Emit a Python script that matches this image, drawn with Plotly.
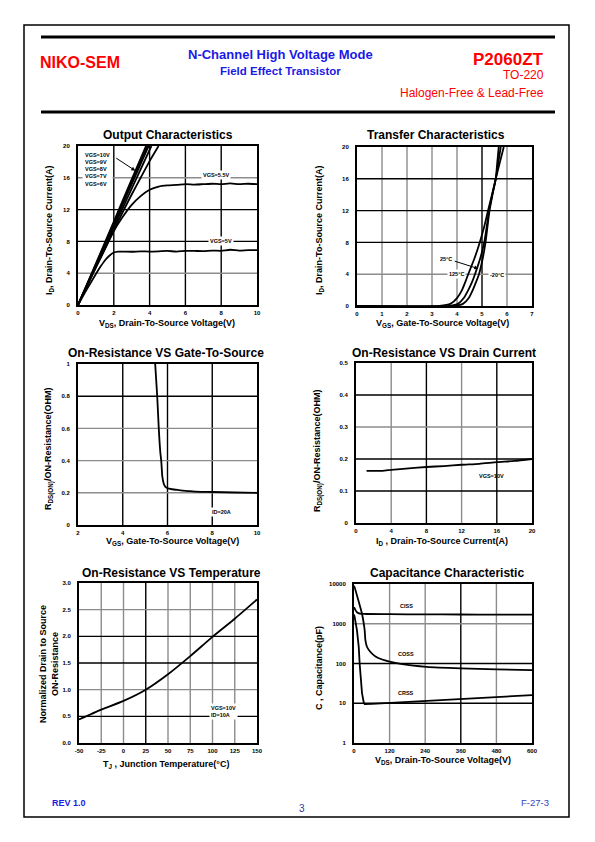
import math
import plotly.graph_objects as go

W, H = 595, 842
FONT = "Liberation Sans, Arial, sans-serif"
RED = "#ff0000"
BLUE = "#1a1ae6"
GRAY = "#8c8c8c"
BLACK = "#000000"

# ---------------- data ----------------
# Output characteristics (VDS in V, ID in A)
oc_vds_10 = [0, 1, 2, 3, 3.8]
oc_id_10 = [0, 5.2, 10.5, 15.8, 20]
oc_vds_9 = [0, 1, 2, 3, 3.88]
oc_id_9 = [0, 5.1, 10.3, 15.5, 20]
oc_vds_8 = [0, 1, 2, 3, 3.95]
oc_id_8 = [0, 5.0, 10.1, 15.2, 20]
oc_vds_7 = [0, 1, 2, 3, 4.1]
oc_id_7 = [0, 4.85, 9.75, 14.65, 20]
oc_vds_6 = [0, 0.5, 1, 1.5, 2, 2.5, 3, 3.5, 4, 4.5]
oc_id_6 = [0, 2.4, 4.8, 7.1, 9.4, 11.7, 13.9, 16.0, 18.1, 20.0]
oc_vds_55 = [0, 0.5, 1, 1.5, 2, 2.5, 3, 3.5, 4, 4.5, 5, 5.5, 6, 6.5, 7, 7.5, 8, 8.5, 9, 9.5, 10]
oc_id_55 = [0, 2.4, 4.7, 7.0, 9.3, 11.1, 12.6, 13.7, 14.5, 14.9, 15.05, 15.1, 15.2, 15.15,
            15.2, 15.25, 15.2, 15.3, 15.2, 15.25, 15.2]
oc_vds_5 = [0, 0.5, 1, 1.25, 1.5, 1.75, 2, 2.25, 2.5, 3, 3.5, 4, 4.5, 5, 5.5, 6, 6.5, 7,
            7.5, 8, 8.5, 9, 9.5, 10]
oc_id_5 = [0, 2.0, 3.9, 4.8, 5.6, 6.2, 6.6, 6.72, 6.72, 6.7, 6.75, 6.72, 6.75, 6.8, 6.72,
           6.8, 6.8, 6.78, 6.85, 6.82, 6.95, 6.85, 6.9, 6.9]

# Transfer characteristics (VGS in V, ID in A)
tc_id = [0, 0.02, 0.3, 1.0, 2.0, 3.0, 4, 6, 8, 10, 12, 14, 16, 18, 20]
tc_vgs_125 = [0, 3.3, 3.75, 4.0, 4.2, 4.33, 4.45, 4.7, 4.91, 5.09, 5.24, 5.4, 5.55, 5.71, 5.87]
tc_vgs_25 = [0, 3.7, 4.05, 4.27, 4.45, 4.6, 4.72, 4.93, 5.09, 5.19, 5.28, 5.41, 5.55, 5.65, 5.75]
tc_vgs_m20 = [0, 3.9, 4.25, 4.47, 4.63, 4.76, 4.88, 5.03, 5.14, 5.22, 5.30, 5.42, 5.55, 5.61, 5.67]

# On-resistance vs gate-to-source voltage (ID = 20 A)
rg_vgs = [5.45, 5.54, 5.61, 5.68, 5.72, 5.77, 5.83, 5.9, 6.0, 6.2, 6.5, 7, 7.5, 8, 9, 10]
rg_r = [1.0, 0.8, 0.6, 0.45, 0.4, 0.3, 0.258, 0.238, 0.228, 0.222, 0.217, 0.21, 0.206,
        0.205, 0.202, 0.2]

# On-resistance vs drain current (VGS = 10 V)
rd_id = [1.2, 2, 3, 4, 6, 8, 10, 12, 14, 16, 18, 20]
rd_r = [0.163, 0.163, 0.163, 0.166, 0.171, 0.175, 0.178, 0.182, 0.185, 0.19, 0.194, 0.2]

# On-resistance vs temperature (normalized)
rt_t = [-50, -25, 0, 25, 50, 75, 100, 125, 150]
rt_r = [0.44, 0.625, 0.79, 1.0, 1.29, 1.63, 1.99, 2.33, 2.69]

# Capacitance (pF) vs VDS
cp_vds_ciss = [0, 5, 10, 20, 40, 120, 240, 360, 480, 600]
cp_ciss = [2600, 2200, 1950, 1800, 1760, 1740, 1720, 1710, 1700, 1690]
cp_vds_coss = [0, 2.3, 18, 27, 33, 36, 38.5, 44, 55.5, 72.5, 95, 120, 163, 245, 360, 480, 600]
cp_coss = [9000, 8200, 3160, 1780, 1000, 680, 380, 260, 195, 150, 126, 112, 96, 82, 75, 71, 68]
cp_vds_crss = [0, 2.3, 10, 16, 19, 22.6, 27, 33, 36, 60, 120, 240, 360, 480, 600]
cp_crss = [1700, 1460, 680, 260, 100, 38, 18, 10.3, 9.5, 9.6, 10.2, 11.3, 12.8, 14.5, 16]

# tick values
oc_xticks = [0, 2, 4, 6, 8, 10]
oc_yticks = [0, 4, 8, 12, 16, 20]
tc_xticks = [0, 1, 2, 3, 4, 5, 6, 7]
tc_yticks = [0, 4, 8, 12, 16, 20]
rg_xticks = [2, 4, 6, 8, 10]
rg_yticks = [0, 0.2, 0.4, 0.6, 0.8, 1]
rg_yticklabels = ["0", "0.2", "0.4", "0.6", "0.8", "1"]
rd_xticks = [0, 4, 8, 12, 16, 20]
rd_yticks = [0, 0.1, 0.2, 0.3, 0.4, 0.5]
rd_yticklabels = ["0", "0.1", "0.2", "0.3", "0.4", "0.5"]
rt_xticks = [-50, -25, 0, 25, 50, 75, 100, 125, 150]
rt_yticks = [0, 0.5, 1.0, 1.5, 2.0, 2.5, 3.0]
rt_yticklabels = ["0.0", "0.5", "1.0", "1.5", "2.0", "2.5", "3.0"]
cp_xticks = [0, 120, 240, 360, 480, 600]
cp_yticks = [1, 10, 100, 1000, 10000]

# ---------------- layout helpers ----------------
def dom_x(a, b):
    return [a / W, b / W]

def dom_y(top, bottom):
    return [1 - bottom / H, 1 - top / H]

fig = go.Figure()
shapes = []
annotations = []

panels = [
    ("1", (78, 257), (146, 305)),
    ("2", (357, 532), (147, 306)),
    ("3", (78, 257), (364, 525)),
    ("4", (356, 532), (363, 523)),
    ("5", (79, 257), (583, 743)),
    ("6", (354, 532), (584, 743)),
]

TICKFONT = dict(size=6, family=FONT, color="black", weight="bold")

def sfx(i):
    return "" if i == 1 else str(i)

def make_axes(i, xd, yd, xr, yr, xt, yt, xtt=None, ytt=None, ylog=False):
    xa = dict(domain=dom_x(*xd), range=xr, tickvals=xt,
              ticktext=xtt if xtt else [str(v) for v in xt],
              showgrid=False, zeroline=False, showline=True, linecolor="black",
              linewidth=2, mirror=True, ticks="outside", ticklen=1,
              tickcolor="rgba(0,0,0,0)", tickfont=TICKFONT, fixedrange=True,
              anchor="y" + sfx(i))
    ya = dict(domain=dom_y(*yd), range=yr, tickvals=yt,
              ticktext=ytt if ytt else [str(v) for v in yt],
              showgrid=False, zeroline=False, showline=True, linecolor="black",
              linewidth=2, mirror=True, ticks="outside", ticklen=5,
              tickcolor="rgba(0,0,0,0)", tickfont=TICKFONT, fixedrange=True,
              anchor="x" + sfx(i))
    if ylog:
        ya["type"] = "log"
    return xa, ya

def grid(i, vvals, vcolors, hvals, hcolors):
    xr = "x" + sfx(i)
    yr = "y" + sfx(i)
    for v, c in zip(vvals, vcolors):
        shapes.append(dict(type="line", xref=xr, yref=yr + " domain", x0=v, x1=v, y0=0, y1=1,
                           line=dict(color=c, width=1.4), layer="below"))
    for v, c in zip(hvals, hcolors):
        shapes.append(dict(type="line", xref=xr + " domain", yref=yr, x0=0, x1=1, y0=v, y1=v,
                           line=dict(color=c, width=1.4), layer="below"))

def line(i, x, y, width=1.8, shape="spline"):
    fig.add_trace(go.Scatter(x=x, y=y, mode="lines",
                             line=dict(color="black", width=width, shape=shape, smoothing=0.6),
                             xaxis="x" + sfx(i), yaxis="y" + sfx(i),
                             showlegend=False, hoverinfo="skip"))

def label(i, x, y, text, size=5.5, xanchor="center", bg="white"):
    annotations.append(dict(xref="x" + sfx(i), yref="y" + sfx(i),
                            x=x, y=y, text=text, showarrow=False, xanchor=xanchor,
                            yanchor="middle", bgcolor=bg, borderpad=1, align="left",
                            font=dict(size=size, family=FONT, color="black", weight="bold")))

def paper_text(xpx, ypx, text, size, color="black", bold=True, xanchor="center", angle=0):
    annotations.append(dict(xref="paper", yref="paper", x=xpx / W, y=1 - ypx / H,
                            text=text, showarrow=False, xanchor=xanchor, yanchor="middle",
                            textangle=angle, align="center",
                            font=dict(size=size, family=FONT, color=color,
                                      weight="bold" if bold else "normal")))

layout_axes = {}
def set_axes(i, xa, ya):
    layout_axes["xaxis" + sfx(i)] = xa
    layout_axes["yaxis" + sfx(i)] = ya

# ---- Panel 1: Output Characteristics
xa, ya = make_axes(1, panels[0][1], panels[0][2], [0, 10], [0, 20], oc_xticks, oc_yticks)
set_axes(1, xa, ya)
grid(1, [2, 4, 6, 8], [BLACK, BLACK, BLACK, BLACK], [4, 8, 12, 16], [GRAY, BLACK, BLACK, GRAY])
for xs, ys in [(oc_vds_10, oc_id_10), (oc_vds_9, oc_id_9), (oc_vds_8, oc_id_8),
               (oc_vds_7, oc_id_7), (oc_vds_6, oc_id_6), (oc_vds_55, oc_id_55),
               (oc_vds_5, oc_id_5)]:
    line(1, xs, ys)
annotations.append(dict(xref="x", yref="y", x=0.25, y=17.0, xanchor="left", yanchor="middle",
                        text="VGS=10V<br>VGS=9V<br>VGS=8V<br>VGS=7V<br>VGS=6V",
                        showarrow=False, align="left", bgcolor="white", borderpad=2,
                        font=dict(size=5.5, family=FONT, color="black", weight="bold")))
annotations.append(dict(xref="x", yref="y", axref="x", ayref="y", x=3.2, y=16.9,
                        ax=2.05, ay=18.6, text="", showarrow=True, arrowhead=2,
                        arrowsize=0.8, arrowwidth=1, arrowcolor="black"))
label(1, 7.7, 16.3, "VGS=5.5V")
label(1, 8.0, 8.1, "VGS=5V")

# ---- Panel 2: Transfer Characteristics
xa, ya = make_axes(2, panels[1][1], panels[1][2], [0, 7], [0, 20], tc_xticks, tc_yticks)
set_axes(2, xa, ya)
grid(2, [1, 2, 3, 4, 5, 6], [GRAY, GRAY, GRAY, GRAY, BLACK, GRAY],
     [4, 8, 12, 16], [GRAY, BLACK, BLACK, BLACK])
for xs in [tc_vgs_125, tc_vgs_25, tc_vgs_m20]:
    line(2, xs, tc_id)
label(2, 3.55, 5.9, "25°C", bg="rgba(0,0,0,0)")
annotations.append(dict(xref="x2", yref="y2", axref="x2", ayref="y2", x=4.85, y=4.7,
                        ax=3.85, ay=5.7, text="", showarrow=True, arrowhead=2,
                        arrowsize=0.8, arrowwidth=1, arrowcolor="black"))
label(2, 3.98, 4.0, "125°C")
label(2, 5.6, 3.9, "-20°C")

# ---- Panel 3: On-Resistance vs VGS
xa, ya = make_axes(3, panels[2][1], panels[2][2], [2, 10], [0, 1], rg_xticks, rg_yticks,
                   ytt=rg_yticklabels)
set_axes(3, xa, ya)
grid(3, [4, 6, 8], [BLACK, BLACK, BLACK], [0.2, 0.4, 0.6, 0.8], [GRAY, GRAY, GRAY, BLACK])
line(3, rg_vgs, rg_r)
label(3, 8.4, 0.08, "ID=20A")

# ---- Panel 4: On-Resistance vs ID
xa, ya = make_axes(4, panels[3][1], panels[3][2], [0, 20], [0, 0.5], rd_xticks, rd_yticks,
                   ytt=rd_yticklabels)
set_axes(4, xa, ya)
grid(4, [4, 8, 12, 16], [GRAY, BLACK, GRAY, BLACK], [0.1, 0.2, 0.3, 0.4],
     [BLACK, BLACK, GRAY, BLACK])
line(4, rd_id, rd_r)
label(4, 15.4, 0.146, "VGS=10V", bg="rgba(0,0,0,0)")

# ---- Panel 5: On-Resistance vs Temperature
xa, ya = make_axes(5, panels[4][1], panels[4][2], [-50, 150], [0, 3], rt_xticks, rt_yticks,
                   ytt=rt_yticklabels)
set_axes(5, xa, ya)
grid(5, [-25, 0, 25, 50, 75, 100, 125], [GRAY, GRAY, BLACK, GRAY, GRAY, GRAY, GRAY],
     [0.5, 1.0, 1.5, 2.0, 2.5], [BLACK, GRAY, BLACK, BLACK, GRAY])
line(5, rt_t, rt_r)
label(5, 96, 0.59, "VGS=10V<br>ID=10A", xanchor="left")

# ---- Panel 6: Capacitance
xa, ya = make_axes(6, panels[5][1], panels[5][2], [0, 600], [0, 4], cp_xticks, cp_yticks,
                   ylog=True)
set_axes(6, xa, ya)
grid(6, [120, 240, 360, 480], [GRAY, GRAY, BLACK, GRAY], [10, 100, 1000],
     [BLACK, BLACK, GRAY])
line(6, cp_vds_ciss, cp_ciss)
line(6, cp_vds_coss, cp_coss)
line(6, cp_vds_crss, cp_crss, shape="linear")
label(6, 176, math.log10(2750), "CISS", bg="rgba(0,0,0,0)")
label(6, 176, math.log10(175), "COSS", bg="rgba(0,0,0,0)")
label(6, 176, math.log10(18.6), "CRSS", bg="rgba(0,0,0,0)")

# ---------------- titles ----------------
TS = 12
paper_text(168, 135, "Output Characteristics", TS)
paper_text(436, 135, "Transfer Characteristics", TS)
paper_text(166, 353, "On-Resistance VS Gate-To-Source", TS)
paper_text(444, 353, "On-Resistance VS Drain Current", TS)
paper_text(171, 573, "On-Resistance VS Temperature", TS)
paper_text(447, 573, "Capacitance Characteristic", TS)

AS = 9
paper_text(167, 323, "V<sub>DS</sub>, Drain-To-Source Voltage(V)", AS)
paper_text(49, 231, "I<sub>D</sub>, Drain-To-Source Current(A)", AS, angle=-90)
paper_text(442, 324, "V<sub>GS</sub>, Gate-To-Source Voltage(V)", AS)
paper_text(319, 231, "I<sub>D</sub>, Drain-To-Source Current(A)", AS, angle=-90)
paper_text(172, 541, "V<sub>GS</sub>, Gate-To-Source Voltage(V)", AS)
paper_text(49, 449, "R<sub>DS(ON)</sub>/ON-Resistance(OHM)", AS, angle=-90)
paper_text(442, 541, "I<sub>D</sub> , Drain-To-Source Current(A)", AS)
paper_text(318, 451, "R<sub>DS(ON)</sub>/ON-Resistance(OHM)", AS, angle=-90)
paper_text(166, 764, "T<sub>J</sub> , Junction Temperature(°C)", AS)
paper_text(49, 664, "Normalized Drain to Source<br>ON-Resistance", AS, angle=-90)
paper_text(443, 760, "V<sub>DS</sub>, Drain-To-Source Voltage(V)", AS)
paper_text(319, 668, "C , Capacitance(pF)", AS, angle=-90)

# ---------------- header / footer ----------------
paper_text(38, 62, "NIKO-SEM", 16, color=RED, xanchor="left")
paper_text(280, 55, "N-Channel High Voltage Mode", 13, color=BLUE)
paper_text(280, 71, "Field Effect Transistor", 11.5, color=BLUE)
paper_text(546, 59, "P2060ZT", 17, color=RED, xanchor="right")
paper_text(546, 75, "TO-220", 12, color=RED, bold=False, xanchor="right")
paper_text(546, 93, "Halogen-Free & Lead-Free", 12, color=RED, bold=False, xanchor="right")
paper_text(50, 803, "REV 1.0", 9, color=BLUE, xanchor="left")
paper_text(302, 808, "3", 10, color="#333399", bold=False)
paper_text(551, 802, "F-27-3", 9.5, color="#3344bb", bold=False, xanchor="right")

# page frame and header rules
shapes.append(dict(type="rect", xref="paper", yref="paper", x0=24 / W, x1=569 / W,
                   y0=1 - 817 / H, y1=1 - 25 / H, line=dict(color="black", width=1.5)))
for ypx in (37, 112):
    shapes.append(dict(type="line", xref="paper", yref="paper", x0=41 / W, x1=555 / W,
                       y0=1 - ypx / H, y1=1 - ypx / H, line=dict(color="black", width=3)))

fig.update_layout(width=W, height=H,
                  margin=dict(l=0, r=0, t=0, b=0, pad=0, autoexpand=False),
                  paper_bgcolor="white", plot_bgcolor="white", showlegend=False,
                  font=dict(family=FONT), shapes=shapes, annotations=annotations,
                  **layout_axes)

fig.write_html("out.html", config={"displayModeBar": False, "staticPlot": True},
               post_script="document.body.style.margin='0';document.body.style.padding='0';")
